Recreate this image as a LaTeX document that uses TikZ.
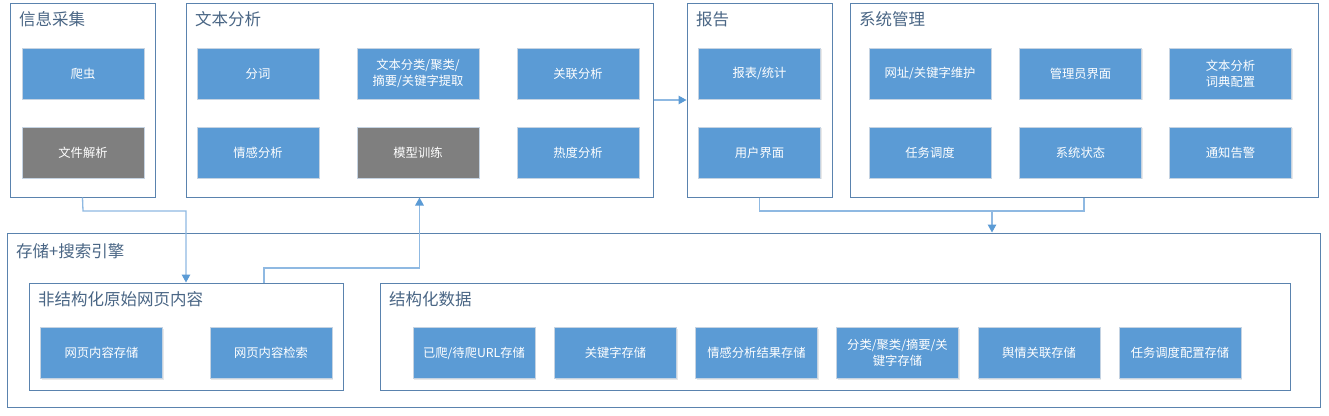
\documentclass[tikz,border=0pt]{standalone}
\usepackage{fontspec}
\setmainfont{Noto Sans CJK SC}
\usetikzlibrary{arrows.meta,shadows}
\definecolor{blkfill}{HTML}{5B9BD5}
\definecolor{grayfill}{HTML}{7F7F7F}
\definecolor{blkline}{HTML}{C5D3E2}
\definecolor{frameline}{HTML}{5A83AE}
\definecolor{ttlcol}{HTML}{4A6685}
\definecolor{conn}{HTML}{8FB9E2}
\definecolor{tipcol}{HTML}{5B9BD5}
\tikzset{
  blk/.style={draw=blkline, line width=0.8pt, fill=blkfill, text=white,
    minimum width=122pt, minimum height=51pt, inner sep=2pt, align=center,
    font=\fontsize{12.3}{16}\selectfont,
    drop shadow={opacity=0.18, shadow xshift=1pt, shadow yshift=-1.2pt}},
  gblk/.style={blk, fill=grayfill},
  frame/.style={draw=frameline, line width=1pt, fill=white, inner sep=0pt,
    drop shadow={opacity=0.10, shadow xshift=1pt, shadow yshift=-1pt}},
  ttl/.style={text=ttlcol, anchor=west, inner sep=0pt, font=\fontsize{16.5}{19}\selectfont},
  conline/.style={draw=conn, line width=1.3pt},
  arr/.style={conline, -{Triangle[length=8pt,width=8.5pt,fill=tipcol,color=tipcol]}},
}
\begin{document}
\begin{tikzpicture}[x=1pt,y=-1pt]
\useasboundingbox[fill=white] (0,0) rectangle (1329,415);

% ---- containers ----
\node[frame, minimum width=1313pt, minimum height=174pt] (cc) at (663.5,320) {};
\node[frame, minimum width=314pt, minimum height=107pt] (fjg) at (186,336.5) {};
\node[frame, minimum width=910pt, minimum height=107pt] (jg) at (835,336.5) {};
\node[frame, minimum width=145pt, minimum height=194pt] (xx) at (82.5,100) {};
\node[frame, minimum width=467pt, minimum height=194pt] (wb) at (419.5,100) {};
\node[frame, minimum width=145pt, minimum height=194pt] (bg) at (759.5,100) {};
\node[frame, minimum width=468pt, minimum height=194pt] (xt) at (1084,100) {};

% ---- titles ----
\node[ttl] (t1) at (19,19.5) {信息采集};
\node[ttl] (t2) at (195,19.5) {文本分析};
\node[ttl] (t3) at (696,19.5) {报告};
\node[ttl] (t4) at (859,19.5) {系统管理};
\node[ttl] (t5) at (16,251) {存储+搜索引擎};
\node[ttl] (t6) at (38,299) {非结构化原始网页内容};
\node[ttl] (t7) at (389,299) {结构化数据};

% ---- 信息采集 ----
\node[blk]  (pc)   at (83,73.5) {爬虫};
\node[gblk] (wjjx) at (83,152.5) {文件解析};

% ---- 文本分析 ----
\node[blk]  (fc)   at (258,73.5) {分词};
\node[blk]  (wbfl) at (418,73.5) {文本分类/聚类/\\摘要/关键字提取};
\node[blk]  (glfx) at (578,73.5) {关联分析};
\node[blk]  (qgfx) at (258,152.5) {情感分析};
\node[gblk] (mxxl) at (418,152.5) {模型训练};
\node[blk]  (rdfx) at (578,152.5) {热度分析};

% ---- 报告 ----
\node[blk] (bbtj) at (759.5,73.5) {报表/统计};
\node[blk] (yhjm) at (759.5,152.5) {用户界面};

% ---- 系统管理 ----
\node[blk] (wzgj) at (930,73.5) {网址/关键字维护};
\node[blk] (gljm) at (1080.5,73.5) {管理员界面};
\node[blk] (cdpz) at (1230.5,73.5) {文本分析\\词典配置};
\node[blk] (rwdd) at (930,152.5) {任务调度};
\node[blk] (xtzt) at (1080.5,152.5) {系统状态};
\node[blk] (tzgj) at (1230.5,152.5) {通知告警};

% ---- 非结构化 ----
\node[blk] (nrcc) at (101.5,353) {网页内容存储};
\node[blk] (nrjs) at (271,353) {网页内容检索};

% ---- 结构化 ----
\node[blk] (url)  at (474,353) {已爬/待爬URL存储};
\node[blk] (gjz)  at (615.5,353) {关键字存储};
\node[blk] (qgjg) at (756.5,353) {情感分析结果存储};
\node[blk] (flcc) at (897.5,353) {分类/聚类/摘要/关\\键字存储};
\node[blk] (yqgl) at (1039,353) {舆情关联存储};
\node[blk] (rwpz) at (1180,353) {任务调度配置存储};

% ---- connectors ----
\coordinate (j1) at (83,211);
\draw[arr] (xx.south) -- (j1) -| (fjg.north);
\coordinate (s2) at (264,283);
\coordinate (j2) at (264,268);
\draw[arr] (s2) -- (j2) -| (wb.south);
\draw[arr] (wb.east) -- (bg.west);
\coordinate (j3) at (759.5,211);
\draw[conline] (bg.south) -- (j3) -| (xt.south);
\coordinate (j4) at (992,211);
\draw[arr] (j4) -- (j4 |- cc.north);
\end{tikzpicture}
\end{document}
